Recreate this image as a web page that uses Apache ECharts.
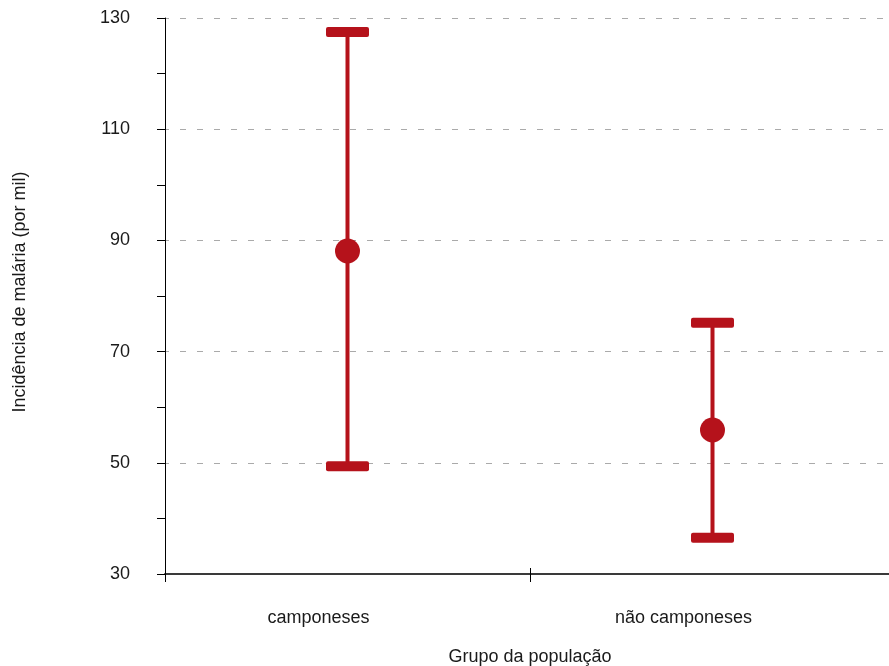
<!DOCTYPE html>
<html><head><meta charset="utf-8">
<script src="https://cdn.jsdelivr.net/npm/echarts@6/dist/echarts.min.js"></script>
<style>html,body{margin:0;padding:0;background:#fff}#c{width:889px;height:666px}</style>
</head><body><div id="c"></div>
<script>
const categories = ['camponeses', 'não camponeses'];
const means = [88.1, 55.9];
const lower = [49.4, 36.5];
const upper = [127.5, 75.2];
const yTicks = [30, 50, 70, 90, 110, 130];

const RED = '#b5121b';
const FONT = '"Liberation Sans", Arial, sans-serif';

const chart = echarts.init(document.getElementById('c'), null, {renderer: 'canvas'});
const errData = categories.map((c, i) => [i, lower[i], upper[i]]);
const meanData = categories.map((c, i) => [i, means[i]]);

chart.setOption({
  animation: false,
  backgroundColor: '#fff',
  grid: {left: 165, width: 730, top: 18, bottom: 92, containLabel: false, outerBoundsMode: 'none'},
  xAxis: [{
    type: 'category', data: categories, boundaryGap: true,
    name: 'Grupo da população', nameLocation: 'middle', nameGap: 74,
    nameTextStyle: {fontFamily: FONT, fontSize: 18, color: '#1a1a1a'},
    axisLine: {lineStyle: {color: '#3a3a3a', width: 2}},
    axisTick: {show: true, length: 8, lineStyle: {color: '#000', width: 1}},
    axisLabel: {fontFamily: FONT, fontSize: 18, color: '#1a1a1a', margin: 35, padding: [0, 58, 0, 0]},
    splitLine: {show: false}
  }, {
    type: 'category', data: categories, boundaryGap: true, position: 'bottom', offset: 0,
    axisLine: {show: false},
    axisTick: {show: true, inside: true, length: 6, lineStyle: {color: '#000', width: 1}},
    axisLabel: {show: false}, splitLine: {show: false}
  }],
  yAxis: {
    type: 'value', min: yTicks[0], max: yTicks[yTicks.length - 1], interval: 20,
    name: 'Incidência de malária (por mil)', nameLocation: 'middle', nameGap: 136,
    nameTextStyle: {fontFamily: FONT, fontSize: 18, color: '#1a1a1a', padding: [0, 0, 0, 8]},
    axisLine: {show: true, lineStyle: {color: '#000', width: 1}},
    axisTick: {show: true, length: 8, lineStyle: {color: '#000', width: 1}},
    minorTick: {show: true, splitNumber: 2, length: 8, lineStyle: {color: '#000', width: 1}},
    axisLabel: {fontFamily: FONT, fontSize: 18, color: '#1a1a1a', margin: 35},
    splitLine: {show: true, lineStyle: {color: '#aaaaaa', width: 1, type: [6, 11], dashOffset: 2}}
  },
  series: [{
    type: 'custom',
    data: errData,
    encode: {x: 0, y: [1, 2]},
    z: 2,
    renderItem: function (params, api) {
      const xi = api.value(0);
      const lo = api.coord([xi, api.value(1)]);
      const hi = api.coord([xi, api.value(2)]);
      const capW = 43, capH = 10;
      const style = {fill: RED};
      return {
        type: 'group',
        children: [
          {type: 'line', shape: {x1: lo[0], y1: lo[1], x2: hi[0], y2: hi[1]},
           style: {stroke: RED, lineWidth: 4}},
          {type: 'rect', shape: {x: hi[0] - capW / 2, y: hi[1] - capH / 2, width: capW, height: capH, r: 2}, style: style},
          {type: 'rect', shape: {x: lo[0] - capW / 2, y: lo[1] - capH / 2, width: capW, height: capH, r: 2}, style: style}
        ]
      };
    }
  }, {
    type: 'scatter',
    data: meanData,
    symbol: 'circle', symbolSize: 25,
    itemStyle: {color: RED, opacity: 1},
    z: 3
  }]
});
</script>
</body></html>
